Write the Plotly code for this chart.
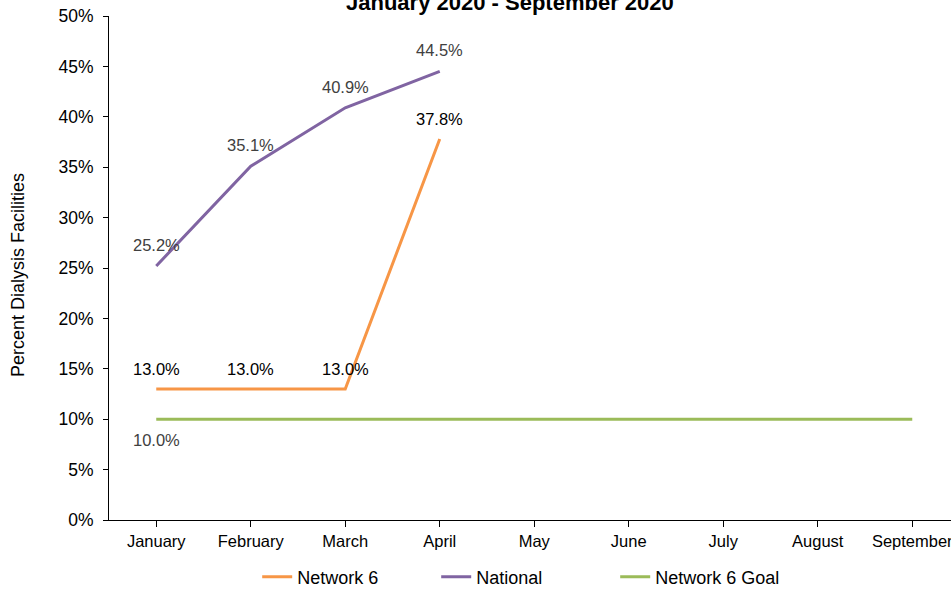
import plotly.graph_objects as go

months = ["January", "February", "March", "April", "May", "June", "July", "August", "September"]
network6 = [0.130, 0.130, 0.130, 0.378, None, None, None, None, None]
national = [0.252, 0.351, 0.409, 0.445, None, None, None, None, None]
goal = [0.100, 0.100, 0.100, 0.100, 0.100, 0.100, 0.100, 0.100, 0.100]
goal_label_months = ["January"]
ytick_vals = [0, 0.05, 0.10, 0.15, 0.20, 0.25, 0.30, 0.35, 0.40, 0.45, 0.50]
ytick_text = ["0%", "5%", "10%", "15%", "20%", "25%", "30%", "35%", "40%", "45%", "50%"]

FONT = "Liberation Sans, Arial, sans-serif"
LBL = 16.5

fig = go.Figure()
fig.add_trace(go.Scatter(x=months, y=network6, name="Network 6", mode="lines",
                         line=dict(color="#F79646", width=3)))
fig.add_trace(go.Scatter(x=months, y=national, name="National", mode="lines",
                         line=dict(color="#8064A2", width=3)))
fig.add_trace(go.Scatter(x=months, y=goal, name="Network 6 Goal", mode="lines",
                         line=dict(color="#9BBB59", width=3)))

annotations = []
for m, v in zip(months, network6):
    if v is not None:
        annotations.append(dict(x=m, y=v, xref="x", yref="y", text=f"{v*100:.1f}%",
                                showarrow=False, yshift=20, yanchor="middle",
                                font=dict(size=LBL, family=FONT, color="#000000")))
for m, v in zip(months, national):
    if v is not None:
        annotations.append(dict(x=m, y=v, xref="x", yref="y", text=f"{v*100:.1f}%",
                                showarrow=False, yshift=21, yanchor="middle",
                                font=dict(size=LBL, family=FONT, color="#404040")))
for m, v in zip(months, goal):
    if m in goal_label_months:
        annotations.append(dict(x=m, y=v, xref="x", yref="y", text=f"{v*100:.1f}%",
                                showarrow=False, yshift=-21, yanchor="middle",
                                font=dict(size=LBL, family=FONT, color="#404040")))

annotations += [
    dict(text="<b>January 2020 - September 2020</b>", xref="paper", yref="paper",
         x=(510 - 109) / 842, y=(520 - 17) / 504, xanchor="center", yanchor="bottom",
         showarrow=False, font=dict(size=22, family=FONT, color="#000000")),
    dict(text="Percent Dialysis Facilities", xref="paper", yref="paper",
         x=(18 - 109) / 842, y=(520 - 275) / 504, xanchor="center", yanchor="middle",
         textangle=-90, showarrow=False, font=dict(size=18, family=FONT, color="#000000")),
]

fig.update_layout(
    width=951, height=590,
    margin=dict(l=109, r=0, t=16, b=70, autoexpand=False),
    paper_bgcolor="white", plot_bgcolor="white",
    font=dict(family=FONT, color="#000000", size=16),
    showlegend=True,
    legend=dict(orientation="h", x=0.176, xanchor="left", y=-0.113, yanchor="middle",
                font=dict(size=18, family=FONT), entrywidth=134, entrywidthmode="pixels",
                bgcolor="rgba(0,0,0,0)"),
    xaxis=dict(
        type="category", range=[-0.5, 8.41], automargin=False,
        showline=True, linecolor="#000000", linewidth=1,
        ticks="outside", ticklen=6, tickcolor="#000000",
        showgrid=False, zeroline=False,
        tickfont=dict(size=16.5, family=FONT),
    ),
    yaxis=dict(
        range=[0, 0.5], tickvals=ytick_vals, ticktext=ytick_text, automargin=False,
        showline=True, linecolor="#000000", linewidth=1,
        ticks="outside", ticklen=5, tickcolor="#000000", ticklabelstandoff=6,
        showgrid=False, zeroline=False,
        tickfont=dict(size=17.5, family=FONT),
    ),
    annotations=annotations,
)

fig.write_html("out.html", config={"displayModeBar": False},
               post_script="document.body.style.margin='0';document.body.style.overflow='hidden';")
